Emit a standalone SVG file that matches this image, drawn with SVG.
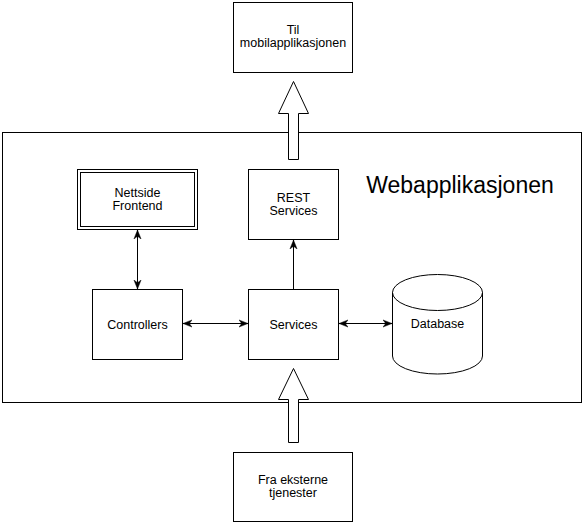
<svg xmlns="http://www.w3.org/2000/svg" width="584" height="524" viewBox="0 0 584 524">
<style>
.box{fill:#fff;stroke:#000;stroke-width:1}
.t{font-family:"Liberation Sans",Arial,sans-serif;font-size:12.5px;fill:#000;text-anchor:middle}
.title{font-family:"Liberation Sans",Arial,sans-serif;font-size:23px;fill:#000;text-anchor:middle}
.conn{fill:none;stroke:#000;stroke-width:1}
.big{fill:#fff;stroke:#000;stroke-width:1}
</style>
<defs>
<marker id="ah" viewBox="0 0 10 10" markerWidth="9" markerHeight="9" refX="10" refY="5" orient="auto-start-reverse" markerUnits="userSpaceOnUse">
<path d="M0,1 L10,5 L0,9 L3,5 Z" fill="#000" stroke="#000" stroke-width="0.5"/>
</marker>
</defs>
<g id="container">
<rect class="box" x="2.5" y="132.5" width="579" height="270"/>
<text class="title" x="460" y="193">Webapplikasjonen</text>
</g>
<g id="mobil">
<rect class="box" x="233.5" y="2.5" width="119" height="70"/>
<text class="t" x="293" y="34">Til</text>
<text class="t" x="293" y="47">mobilapplikasjonen</text>
</g>
<g id="eksterne">
<rect class="box" x="233.5" y="452.5" width="119" height="69"/>
<text class="t" x="293" y="484">Fra eksterne</text>
<text class="t" x="293" y="497">tjenester</text>
</g>
<g id="nettside">
<rect class="box" x="77.5" y="169.5" width="120" height="60"/>
<rect class="box" x="80.5" y="172.5" width="114" height="54"/>
<text class="t" x="137.5" y="196.5">Nettside</text>
<text class="t" x="137.5" y="210">Frontend</text>
</g>
<g id="rest">
<rect class="box" x="248.5" y="169.5" width="90" height="70"/>
<text class="t" x="293.5" y="201.5">REST</text>
<text class="t" x="293.5" y="215">Services</text>
</g>
<g id="controllers">
<rect class="box" x="92.5" y="289.5" width="90" height="70"/>
<text class="t" x="137.5" y="328.5">Controllers</text>
</g>
<g id="services">
<rect class="box" x="248.5" y="289.5" width="90" height="70"/>
<text class="t" x="293.5" y="328.5">Services</text>
</g>
<g id="database">
<path class="box" d="M392.5,292.5 A45,18 0 0 1 482.5,292.5 L482.5,356 A45,18 0 0 1 392.5,356 Z"/>
<path class="conn" d="M392.5,292.5 A45,18 0 0 0 482.5,292.5"/>
<text class="t" x="437.5" y="328">Database</text>
</g>
<g id="connectors">
<line class="conn" x1="137.5" y1="230" x2="137.5" y2="289" marker-start="url(#ah)" marker-end="url(#ah)"/>
<line class="conn" x1="183" y1="323.5" x2="248" y2="323.5" marker-start="url(#ah)" marker-end="url(#ah)"/>
<line class="conn" x1="339" y1="323.5" x2="392" y2="323.5" marker-start="url(#ah)" marker-end="url(#ah)"/>
<line class="conn" x1="293.5" y1="289" x2="293.5" y2="240" marker-end="url(#ah)"/>
<path class="big" d="M288.5,159.5 L288.5,113.5 L278.5,113.5 L293.5,81.5 L308.5,113.5 L298.5,113.5 L298.5,159.5 Z"/>
<path class="big" d="M288.5,442.5 L288.5,399.5 L278.5,399.5 L293.5,368.5 L308.5,399.5 L298.5,399.5 L298.5,442.5 Z"/>
</g>
</svg>
